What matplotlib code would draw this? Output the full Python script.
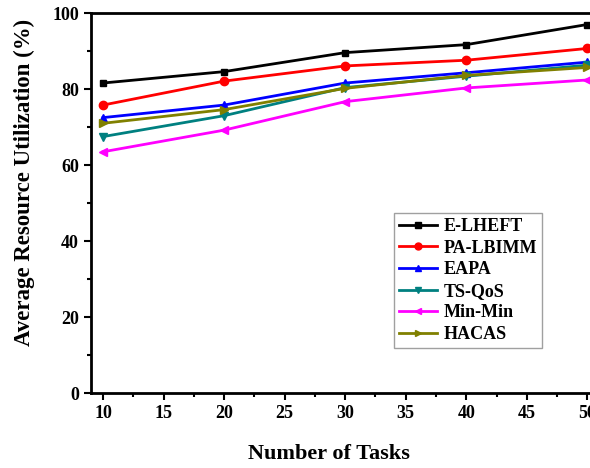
import matplotlib
matplotlib.use('Agg')
import matplotlib.pyplot as plt
from matplotlib.ticker import MultipleLocator

plt.rcParams['font.family'] = 'Liberation Serif'
plt.rcParams['font.weight'] = 'bold'

tasks = [10, 20, 30, 40, 50]
e_lheft = [81.6, 84.6, 89.6, 91.7, 97.0]
pa_lbimm = [75.8, 82.1, 86.1, 87.6, 90.7]
eapa = [72.5, 75.8, 81.6, 84.3, 87.1]
ts_qos = [67.5, 73.0, 80.4, 83.4, 86.3]
min_min = [63.5, 69.2, 76.7, 80.3, 82.4]
hacas = [71.0, 74.6, 80.2, 83.6, 85.7]

series = [
    ('E-LHEFT', e_lheft, 'black', 's', 5),
    ('PA-LBIMM', pa_lbimm, 'red', 'o', 6),
    ('EAPA', eapa, 'blue', '^', 6),
    ('TS-QoS', ts_qos, '#008080', 'v', 6),
    ('Min-Min', min_min, 'magenta', '<', 6),
    ('HACAS', hacas, '#808000', '>', 6),
]

fig = plt.figure(figsize=(5.9, 4.68), dpi=100)
ax = fig.add_axes([0.154, 0.160, 0.862, 0.812])

for name, vals, col, mk, ms in series:
    ax.plot(tasks, vals, color=col, marker=mk, markersize=ms, linewidth=2, label=name)

ax.set_xlim(9, 51)
ax.set_ylim(0, 100)
ax.xaxis.set_major_locator(MultipleLocator(5))
ax.xaxis.set_minor_locator(MultipleLocator(2.5))
ax.yaxis.set_major_locator(MultipleLocator(20))
ax.yaxis.set_minor_locator(MultipleLocator(10))
ax.tick_params(which='major', direction='out', length=5, width=1.5, labelsize=13)
ax.tick_params(which='minor', direction='out', length=3, width=1.5)
for sp in ax.spines.values():
    sp.set_linewidth(2)

ax.set_xlabel('Number of Tasks', fontsize=16, fontweight='bold')
ax.xaxis.set_label_coords(0.468, -0.135)
ax.set_ylabel('Average Resource Utilization (%)', fontsize=16.5, fontweight='bold')
ax.yaxis.set_label_coords(-0.11, 0.555)

leg = ax.legend(loc='lower right', bbox_to_anchor=(0.888, 0.118), fontsize=13,
                frameon=True, fancybox=False, edgecolor='#888888',
                handlelength=2.1, borderpad=0.3, labelspacing=0.25, handletextpad=0.35,
                borderaxespad=0)
leg.get_frame().set_linewidth(1)
for h in leg.legend_handles:
    h.set_markersize(5)

fig.savefig('out.png', dpi=100)
